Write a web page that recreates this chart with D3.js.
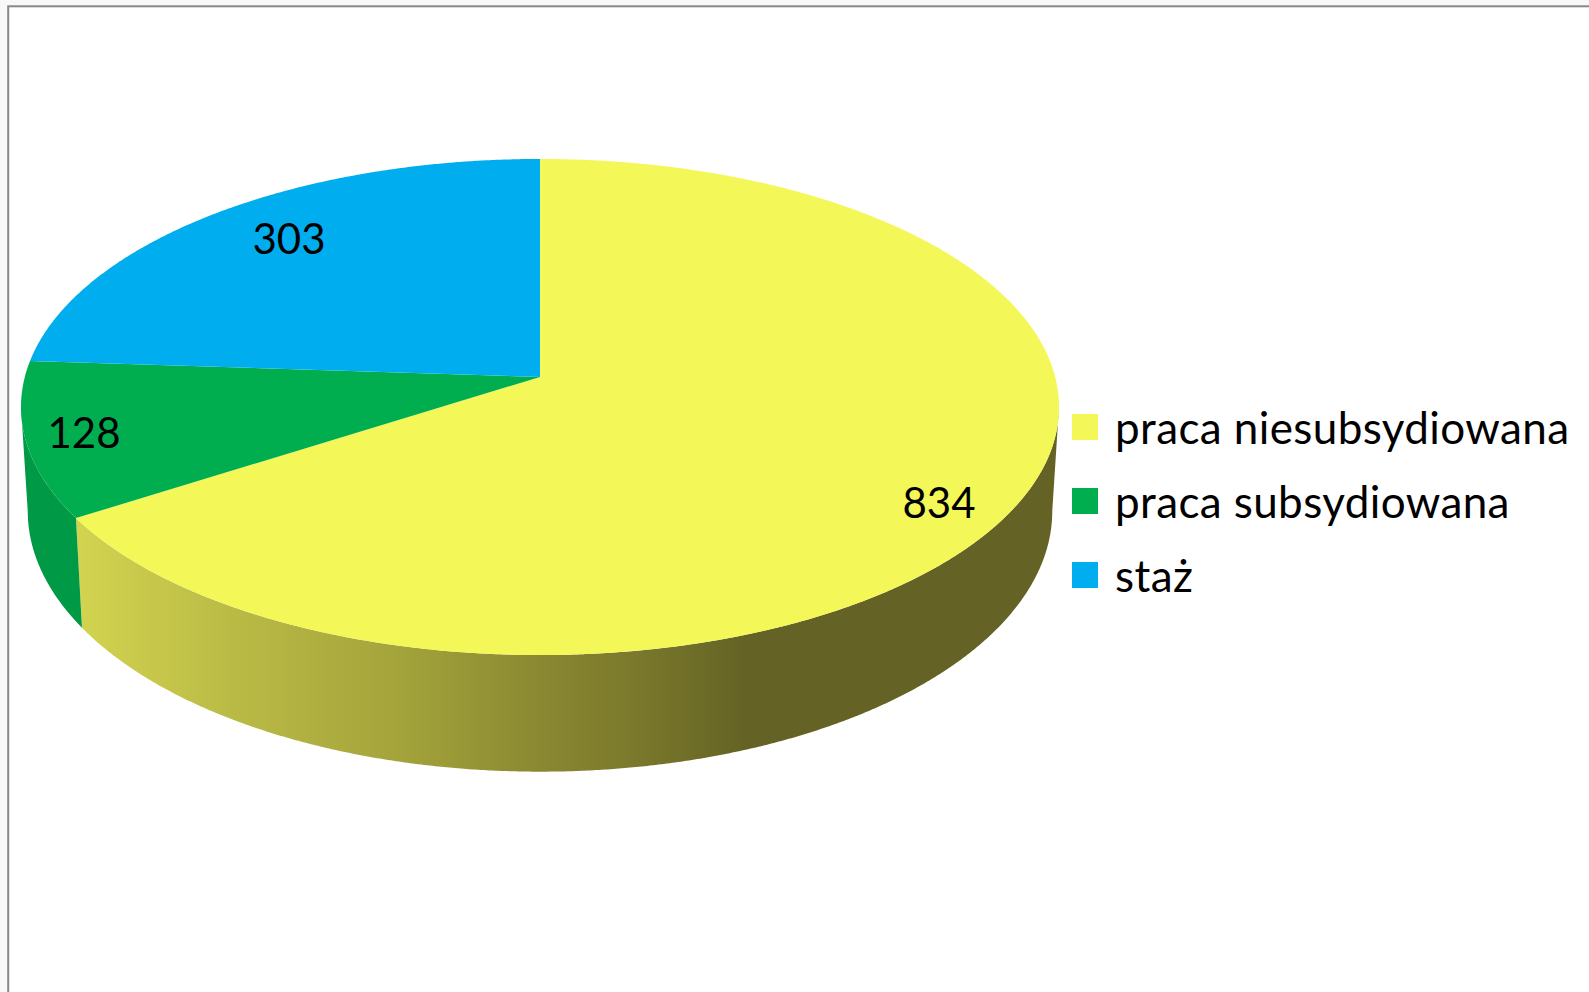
<!DOCTYPE html>
<html>
<head>
<meta charset="utf-8">
<script src="https://cdn.jsdelivr.net/npm/d3@7"></script>
<style>
  html, body { margin: 0; padding: 0; background: #f8f8f8; }
  svg { display: block; }
  text { font-family: Lato, "Noto Sans", sans-serif; fill: #000; }
</style>
</head>
<body>
<svg id="chart"></svg>
<script>
var categories = ['praca niesubsydiowana', 'praca subsydiowana', 'staż'];
var values = [834, 128, 303];
var sliceColors = ['#f3f757', '#00ae4f', '#00aeef'];
var wallColors = [null, '#009a46', '#0090c6'];

var WIDTH = 1589;
var HEIGHT = 992;

// perspective of the pie: apex sits above the centre of the ellipse
var CX = 540;
var APEX_Y = 377;
var RADIUS = 515.2;
var TILT = 198.8;
var K = -0.121;
var DEPTH = 102.5;
var FLOOR_SCALE = 0.987;

var project = (angle, r = 1) => {
  var u = Math.sin(angle) * r;
  var v = -Math.cos(angle) * r;
  var w = 1 + K * v;
  return [CX + RADIUS * u / w, (APEX_Y + TILT * v) / w];
};

var projectFloor = angle => {
  var [x, y] = project(angle);
  var w = 1 - K * Math.cos(angle);
  return [CX + FLOOR_SCALE * (x - CX), y + DEPTH / w];
};

var angleRange = (a0, a1) => {
  var n = Math.max(2, Math.ceil(Math.abs(a1 - a0) / 0.005));
  return d3.range(n + 1).map(i => a0 + (a1 - a0) * i / n);
};

var svg = d3.select('#chart')
  .attr('width', WIDTH)
  .attr('height', HEIGHT);

var line = d3.line();

/**
 * paper and frame
 */
svg.append('rect')
  .attr('x', 8.2)
  .attr('y', 6.3)
  .attr('width', WIDTH)
  .attr('height', HEIGHT)
  .attr('fill', '#fff')
  .attr('stroke', '#888')
  .attr('stroke-width', 2);

/**
 * wall gradient
 */
var gradient = svg.append('defs').append('linearGradient')
  .attr('id', 'wall-yellow')
  .attr('gradientUnits', 'userSpaceOnUse')
  .attr('x1', 80).attr('x2', 1060)
  .attr('y1', 0).attr('y2', 0);

[[0, '#d2d34f'], [0.16, '#b9ba45'], [0.33, '#a3a33b'], [0.5, '#85832f'], [0.57, '#7a782b'], [0.68, '#646325'], [1, '#646325']]
  .forEach(s => gradient.append('stop').attr('offset', s[0]).attr('stop-color', s[1]));

/**
 * slices
 */
var pie = d3.pie().sort(null)(values);

// silhouette angles of the wall, where the top ellipse is widest
var WALL_RIGHT = Math.acos(K);
var WALL_LEFT = 2 * Math.PI - WALL_RIGHT;

var walls = svg.append('g').attr('class', 'walls');
var tops = svg.append('g').attr('class', 'tops');

pie.forEach((d, i) => {
  var a0 = Math.max(d.startAngle, WALL_RIGHT);
  var a1 = Math.min(d.endAngle, WALL_LEFT);
  if (a1 > a0) {
    var steps = angleRange(a0, a1);
    var outline = steps.map(a => project(a)).concat(steps.slice().reverse().map(projectFloor));
    walls.append('path')
      .attr('d', line(outline) + 'Z')
      .attr('fill', i === 0 ? 'url(#wall-yellow)' : wallColors[i]);
  }
  var arc = angleRange(d.startAngle, d.endAngle).map(a => project(a));
  tops.append('path')
    .attr('d', line([[CX, APEX_Y]].concat(arc)) + 'Z')
    .attr('fill', sliceColors[i]);
});

/**
 * value labels
 */
var labelAt = [[939, 503], [84, 433], [289, 239]];

svg.append('g').selectAll('text')
  .data(values)
  .enter().append('text')
    .attr('x', (d, i) => labelAt[i][0])
    .attr('y', (d, i) => labelAt[i][1])
    .attr('dy', '.36em')
    .attr('text-anchor', 'middle')
    .attr('font-size', 42)
    .text(d => d);

/**
 * legend
 */
var legendY = d3.scalePoint()
  .domain(categories)
  .range([427, 575]);

var legend = svg.append('g').selectAll('g')
  .data(categories)
  .enter().append('g')
    .attr('transform', d => `translate(0, ${ legendY(d) })`);

legend.append('rect')
  .attr('x', 1072)
  .attr('y', -13)
  .attr('width', 26)
  .attr('height', 26)
  .attr('fill', (d, i) => sliceColors[i]);

legend.append('text')
  .attr('x', 1115)
  .attr('y', 17)
  .attr('font-size', 44)
  .attr('letter-spacing', 0.4)
  .text(d => d);
</script>
</body>
</html>
